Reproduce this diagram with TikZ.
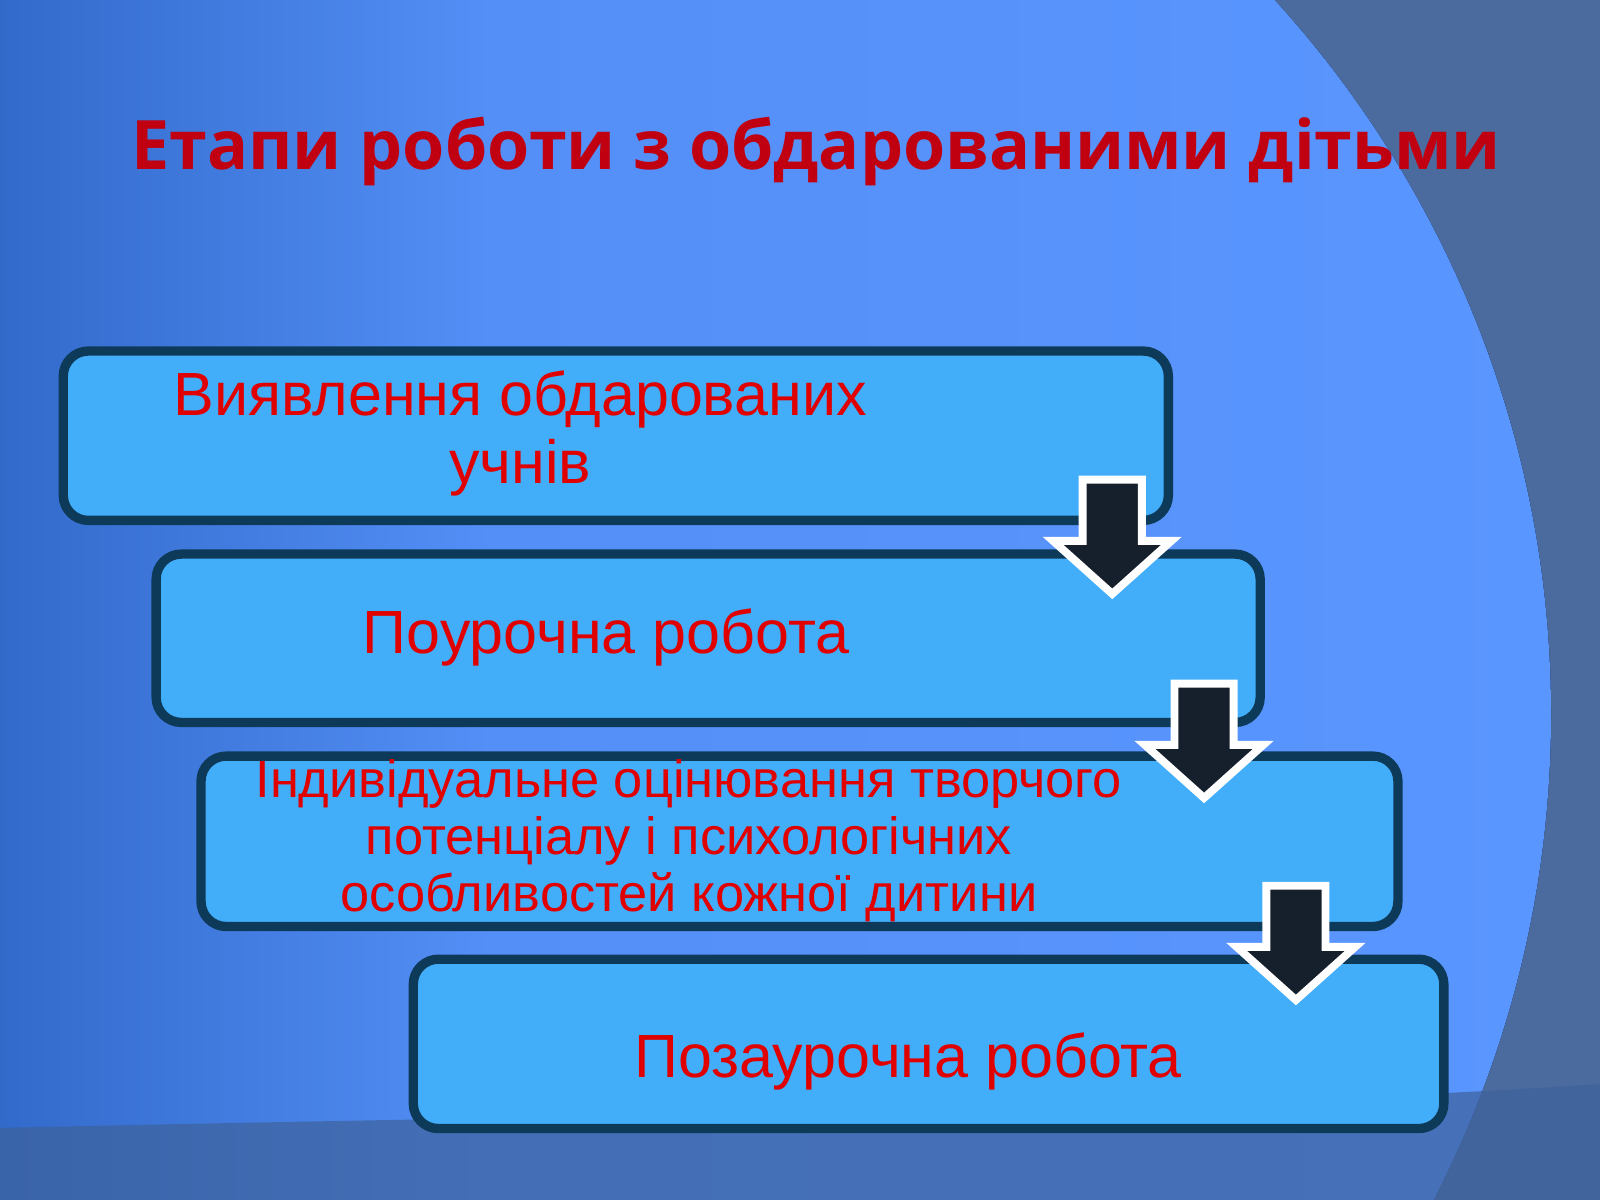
\documentclass[tikz,border=0pt]{standalone}
\usepackage{fontspec}
\setmainfont{Liberation Sans}
\newfontfamily\titlefont{Open Sans}
\usetikzlibrary{shapes.arrows}
\definecolor{bgdark}{HTML}{0A3F96}
\definecolor{bglight}{HTML}{5A96FF}
\definecolor{bggrey}{HTML}{4B6B9E}
\definecolor{boxfill}{HTML}{42AEFA}
\definecolor{boxline}{HTML}{0E3A5A}
\definecolor{txtred}{HTML}{E00000}
\definecolor{ttlred}{HTML}{C00010}
\definecolor{arrowfill}{HTML}{16202C}
\tikzset{
  stagebox/.style={draw=boxline, line width=2.6pt, fill=boxfill, rounded corners=7pt},
  stagetext/.style={text=txtred, align=center, font=\fontsize{17}{19}\selectfont},
  downarrow/.style={fill=arrowfill, draw=white, line width=2.2pt, line join=miter}
}
\begin{document}
\begin{tikzpicture}[x=0.01cm, y=-0.01cm]
  % background
  \fill[bggrey] (0,0) rectangle (1568,1176);
  \begin{scope}
    \clip (0,0) rectangle (1568,1176);
    \fill[left color=bgdark, right color=bglight, middle color=bglight!92!bgdark, shading angle=90]
      (480,700) circle (1040);
    \fill[bggrey!80!bgdark, opacity=0.7] (-200,1110) .. controls (600,1090) and (1200,1090) .. (1600,1060) -- (1600,1200) -- (-200,1200) -- cycle;
  \end{scope}
  \useasboundingbox (0,0) rectangle (1568,1176);
  % title
  \node (title) [text=ttlred, font=\titlefont\bfseries\fontsize{19}{23}\selectfont] at (800,148) {Етапи роботи з обдарованими дітьми};
  % boxes
  \draw[stagebox] (62,344) rectangle (1145,510);
  \draw[stagebox] (153,543) rectangle (1235,708);
  \draw[stagebox] (197,741) rectangle (1370,908);
  \draw[stagebox] (405,940) rectangle (1415,1106);
  \node (s1) [stagetext] at (510,425) {Виявлення обдарованих\\учнів};
  \node (s2) [stagetext] at (594,625) {Поурочна робота};
  \node (s3) [stagetext, font=\fontsize{14.6}{15.8}\selectfont] at (675,824) {Індивідуальне оцінювання творчого\\потенціалу і психологічних\\особливостей кожної дитини};
  \node (s4) [stagetext] at (890,1040) {Позаурочна робота};
  % arrows between stages
  \foreach \ax/\ay in {1090/470, 1180/670, 1270/868}{
    \draw[downarrow] (\ax-29,\ay) -- (\ax+29,\ay) -- (\ax+29,\ay+60) -- (\ax+58,\ay+60)
      -- (\ax,\ay+112) -- (\ax-58,\ay+60) -- (\ax-29,\ay+60) -- cycle;
  }
\end{tikzpicture}
\end{document}
